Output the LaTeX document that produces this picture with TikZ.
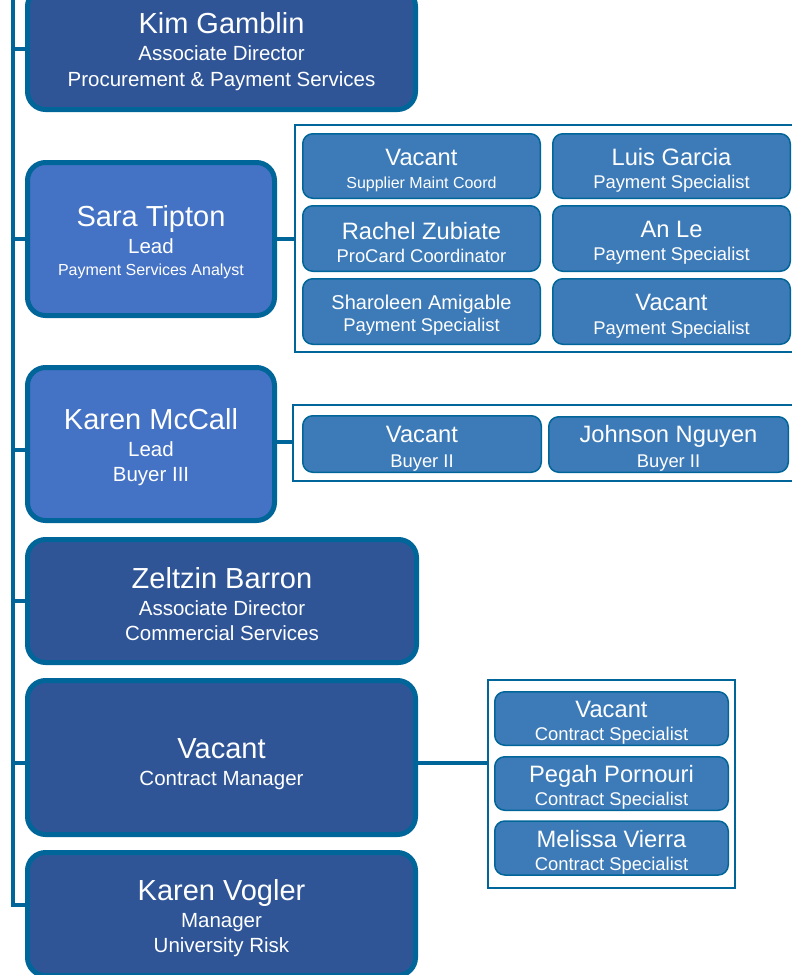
\documentclass[tikz,border=0pt]{standalone}
\usepackage{fontspec}
\setmainfont{Liberation Sans}

\definecolor{edgeblue}{RGB}{0,102,153}
\definecolor{headfill}{RGB}{47,85,151}
\definecolor{leadfill}{RGB}{68,114,196}
\definecolor{stafffill}{RGB}{61,123,184}

\newcommand{\bname}[1]{{\fontsize{29}{30}\selectfont\rule{0pt}{27pt}#1}}
\newcommand{\sname}[1]{{\fontsize{23.7}{25}\selectfont\rule{0pt}{25.5pt}#1}}

\tikzset{
	bigbox/.style={draw=edgeblue, line width=5pt, rounded corners=18pt, fill=headfill, text=white, align=center, inner sep=0pt, font=\fontsize{20.5}{25}\selectfont},
	leadbox/.style={bigbox, fill=leadfill},
	staffbox/.style={draw=edgeblue, line width=1.5pt, rounded corners=10pt, fill=stafffill, text=white, align=center, inner sep=0pt, font=\fontsize{18.4}{23}\selectfont},
	groupbox/.style={draw=edgeblue, line width=1.5pt, fill=white, inner sep=0pt},
	tie/.style={draw=edgeblue, line width=4pt}
}

\begin{document}
\begin{tikzpicture}[x=1pt,y=-1pt]
		\useasboundingbox (0,0) rectangle (792,975);

		% heads and leads
		\draw (221.5,49) node [bigbox, minimum width=388pt, minimum height=121pt] (kim) {\bname{Kim Gamblin}\\[2pt] Associate Director\\[1pt] Procurement \& Payment Services};
		\draw (151,239) node [leadbox, minimum width=247pt, minimum height=153pt] (sara) {\bname{Sara Tipton}\\[2pt] Lead\\[-3pt] {\fontsize{16}{16}\selectfont Payment Services Analyst}};
		\draw (151,444) node [leadbox, minimum width=247pt, minimum height=153pt] (mccall) {\bname{Karen McCall}\\[2pt] Lead\\ Buyer III};
		\draw (222,601) node [bigbox, minimum width=389pt, minimum height=123pt] (zeltzin) {\bname{Zeltzin Barron}\\[2pt] Associate Director\\ Commercial Services};
		\draw (221.5,757.5) node [bigbox, minimum width=388pt, minimum height=154pt] (manager) {\rule{0pt}{33pt}\bname{Vacant}\\[2pt] Contract Manager};
		\draw (221.5,914) node [bigbox, minimum width=388pt, minimum height=123pt] (vogler) {\rule{0pt}{29pt}\bname{Karen Vogler}\\[2pt] Manager\\ University Risk};

		% staff groups
		\draw (546,238.5) node [groupbox, minimum width=502pt, minimum height=227pt] (paygroup) {};
		\draw (545,443) node [groupbox, minimum width=504pt, minimum height=76pt] (buygroup) {};
		\draw (611.5,784) node [groupbox, minimum width=247pt, minimum height=208pt] (contgroup) {};

		\draw (421.5,166) node [staffbox, minimum width=237.5pt, minimum height=64.5pt] (supcoord) {\sname{Vacant}\\ {\fontsize{16}{16}\selectfont Supplier Maint Coord}};
		\draw (671.5,166) node [staffbox, minimum width=237.5pt, minimum height=64.5pt] (garcia) {\sname{Luis Garcia}\\ Payment Specialist};
		\draw (421.5,238.5) node [staffbox, minimum width=237.5pt, minimum height=65.5pt] (zubiate) {\sname{Rachel Zubiate}\\ ProCard Coordinator};
		\draw (671.5,238.5) node [staffbox, minimum width=237.5pt, minimum height=65.5pt] (le) {\sname{An Le}\\ Payment Specialist};
		\draw (421.5,311.5) node [staffbox, minimum width=237.5pt, minimum height=65.5pt] (amigable) {{\fontsize{20}{22}\selectfont\rule{0pt}{22pt}Sharoleen Amigable}\\[-1.5pt] Payment Specialist};
		\draw (671.5,311.5) node [staffbox, minimum width=237.5pt, minimum height=65.5pt] (payvacant) {\sname{Vacant}\\[1pt] Payment Specialist};

		\draw (422,444) node [staffbox, minimum width=238.5pt, minimum height=56.5pt] (buyvacant) {\sname{Vacant}\\[2pt] Buyer II};
		\draw (668.5,444.5) node [staffbox, minimum width=239.5pt, minimum height=55.5pt] (nguyen) {\sname{Johnson Nguyen}\\[2pt] Buyer II};

		\draw (611.5,718.5) node [staffbox, minimum width=233.5pt, minimum height=53.5pt] (contvacant) {\sname{Vacant}\\ Contract Specialist};
		\draw (611.5,783.5) node [staffbox, minimum width=233.5pt, minimum height=53.5pt] (pornouri) {\sname{Pegah Pornouri}\\ Contract Specialist};
		\draw (611.5,848) node [staffbox, minimum width=233.5pt, minimum height=54pt] (vierra) {\sname{Melissa Vierra}\\ Contract Specialist};

		% spine and ties
		\coordinate (spine) at (12.5,-5);
		\draw [tie] (spine) |- ([yshift=9pt]vogler.west);
		\draw [tie] (kim.west) -- (kim.west -| spine);
		\draw [tie] (sara.west) -- (sara.west -| spine);
		\draw [tie] ([yshift=-6pt]mccall.west) -- ([yshift=-6pt]mccall.west -| spine);
		\draw [tie] (zeltzin.west) -- (zeltzin.west -| spine);
		\draw [tie] ([yshift=-5pt]manager.west) -- ([yshift=-5pt]manager.west -| spine);

		\draw [tie] (sara.east) -- (sara.east -| paygroup.west);
		\draw [tie] ([yshift=2pt]mccall.east) -- ([yshift=2pt]mccall.east -| buygroup.west);
		\draw [tie] ([yshift=-5pt]manager.east) -- ([yshift=-5pt]manager.east -| contgroup.west);
	\end{tikzpicture}
\end{document}
